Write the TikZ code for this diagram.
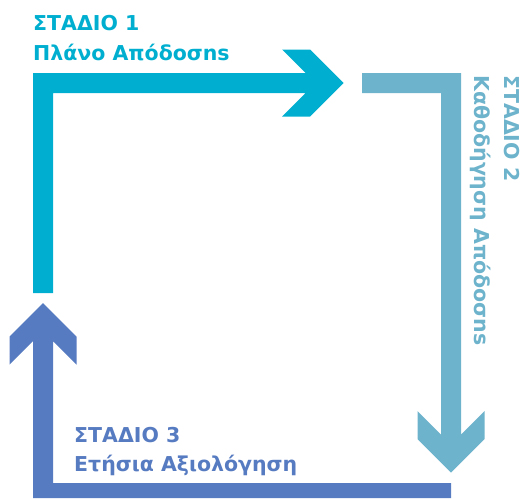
\documentclass[tikz,border=0pt]{standalone}
\usepackage{fontspec}
\setmainfont{DejaVu Sans}
\definecolor{stageone}{HTML}{00AFCF}
\definecolor{stagetwo}{HTML}{6DB3CB}
\definecolor{stagethree}{HTML}{577BC1}
\tikzset{
  label/.style={inner sep=0pt, anchor=base west, font=\bfseries\fontsize{20.5}{24}\selectfont},
}
\begin{document}
\begin{tikzpicture}[x=1pt,y=-1pt]
\useasboundingbox (0,0) rectangle (524,499);

% Stage 1: up and to the right
\fill[stageone] (33,293) -- (33,73) -- (305.5,73) -- (282,49.5) -- (310,49.5)
  -- (343.5,83) -- (310,116.5) -- (282,116.5) -- (305.5,93) -- (53,93)
  -- (53,293) -- cycle;

% Stage 2: right and down
\fill[stagetwo] (362,73) -- (461,73) -- (461,434.5) -- (484.5,411) -- (484.5,439)
  -- (451,472.5) -- (417.5,439) -- (417.5,411) -- (441,434.5) -- (441,93)
  -- (362,93) -- cycle;

% Stage 3: left and up
\fill[stagethree] (451,483) -- (53,483) -- (53,341) -- (76.5,364.5) -- (76.5,336.5)
  -- (43,303) -- (9.5,336.5) -- (9.5,364.5) -- (33,341) -- (33,498)
  -- (451,498) -- cycle;

% Labels
\node[label, text=stageone] (s1a) at (33,30) {ΣΤΑΔΙΟ 1};
\node[label, text=stageone] (s1b) at (33,60) {Πλάνο Απόδοσns};

\node[label, text=stagetwo, rotate=-90] (s2a) at (504,75) {ΣΤΑΔΙΟ 2};
\node[label, text=stagetwo, rotate=-90] (s2b) at (474,75) {Καθοδήγηση Απόδοσns};

\node[label, text=stagethree] (s3a) at (74,442) {ΣΤΑΔΙΟ 3};
\node[label, text=stagethree] (s3b) at (74,471) {Ετήσια Αξιολόγηση};
\end{tikzpicture}
\end{document}
